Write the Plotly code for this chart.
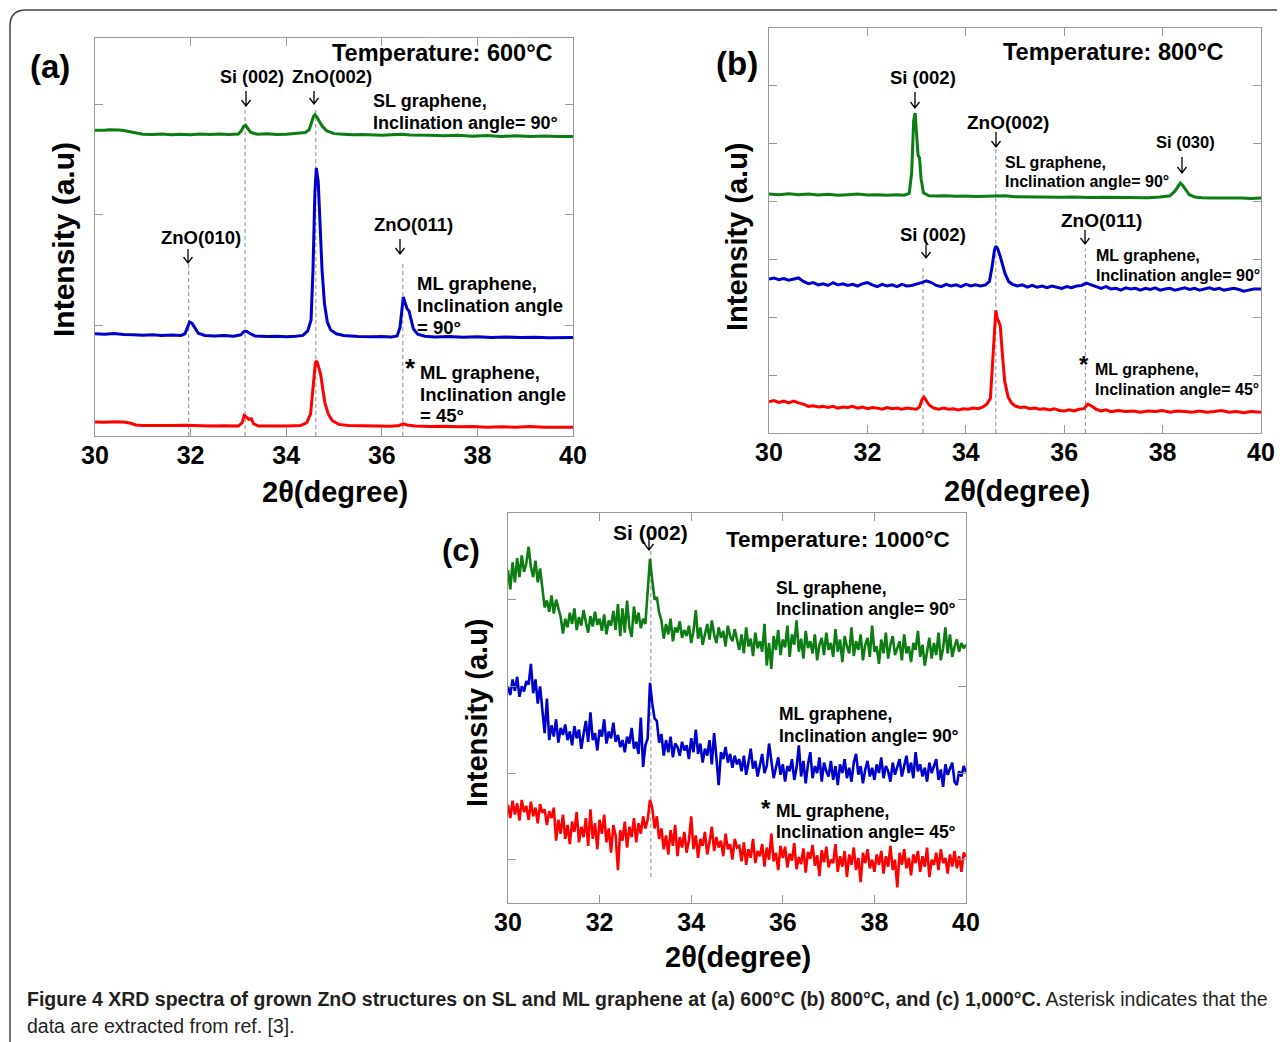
import plotly.graph_objects as go

# The page places the figure 8 px from the top-left corner of the window.
OFF = 8
FW, FH = 1285 - OFF, 1042 - OFF
FONT = "Liberation Sans"

# ---------------- data: panel (a) 600 C ----------------
A_SL = [(30.0,2.765),(30.1,2.763),(30.2,2.766),(30.3,2.77),(30.4,2.772),(30.5,2.768),(30.6,2.764),(30.7,2.755),
        (30.8,2.745),(30.9,2.735),(31.0,2.73),(31.2,2.727),(31.4,2.731),(31.6,2.725),(31.8,2.729),(32.0,2.725),
        (32.2,2.731),(32.4,2.727),(32.6,2.732),(32.8,2.727),(33.0,2.732),(33.06,2.76),(33.11,2.80),(33.15,2.81),
        (33.2,2.78),(33.25,2.75),(33.3,2.74),(33.4,2.73),(33.6,2.735),(33.8,2.728),(34.0,2.73),(34.2,2.735),
        (34.4,2.745),(34.48,2.77),(34.53,2.83),(34.57,2.89),(34.6,2.905),(34.65,2.88),(34.7,2.84),(34.76,2.80),
        (34.85,2.76),(35.0,2.735),(35.2,2.73),(35.4,2.725),(35.6,2.728),(35.8,2.722),(36.0,2.72),(36.2,2.725),
        (36.4,2.73),(36.6,2.722),(36.8,2.718),(37.0,2.72),(37.3,2.715),(37.6,2.72),(37.9,2.712),(38.2,2.718),
        (38.5,2.71),(38.8,2.715),(39.1,2.71),(39.4,2.714),(39.7,2.708),(40.0,2.71)]
A_ML90 = [(30.0,0.925),(30.2,0.92),(30.4,0.928),(30.6,0.918),(30.8,0.915),(31.0,0.912),(31.2,0.916),(31.4,0.91),
          (31.6,0.913),(31.8,0.91),(31.88,0.925),(31.93,0.98),(31.98,1.03),(32.03,1.02),(32.08,0.98),(32.16,0.93),
          (32.3,0.91),(32.5,0.905),(32.7,0.908),(32.9,0.903),(33.05,0.915),(33.12,0.945),(33.18,0.945),(33.25,0.925),
          (33.35,0.905),(33.6,0.9),(33.8,0.903),(34.0,0.898),(34.2,0.902),(34.35,0.91),(34.45,0.95),(34.52,1.05),
          (34.56,1.5),(34.6,2.2),(34.63,2.425),(34.67,2.3),(34.71,1.9),(34.75,1.5),(34.8,1.2),(34.86,1.03),
          (34.93,0.96),(35.05,0.925),(35.2,0.91),(35.5,0.9),(35.8,0.897),(36.0,0.9),(36.2,0.895),(36.32,0.905),
          (36.38,0.98),(36.42,1.15),(36.45,1.258),(36.49,1.2),(36.53,1.15),(36.57,1.13),(36.61,1.06),(36.66,0.97),
          (36.75,0.92),(36.9,0.903),(37.1,0.895),(37.4,0.9),(37.7,0.893),(38.0,0.897),(38.3,0.89),(38.6,0.895),
          (38.9,0.89),(39.2,0.894),(39.5,0.888),(39.8,0.893),(40.0,0.89)]
A_ML45 = [(30.0,0.127),(30.2,0.125),(30.4,0.13),(30.6,0.126),(30.75,0.115),(30.85,0.1),(31.0,0.095),(31.3,0.092),
          (31.6,0.094),(31.9,0.098),(32.1,0.093),(32.4,0.09),(32.7,0.092),(33.0,0.09),(33.08,0.12),(33.12,0.185),
          (33.17,0.17),(33.22,0.15),(33.27,0.155),(33.32,0.11),(33.42,0.09),(33.7,0.088),(34.0,0.09),(34.3,0.095),
          (34.43,0.12),(34.51,0.2),(34.56,0.4),(34.61,0.66),(34.64,0.68),(34.68,0.63),(34.72,0.56),(34.76,0.44),
          (34.81,0.3),(34.88,0.2),(34.96,0.14),(35.1,0.105),(35.3,0.095),(35.6,0.092),(35.9,0.09),(36.2,0.088),
          (36.36,0.095),(36.45,0.11),(36.53,0.1),(36.7,0.09),(37.0,0.085),(37.3,0.088),(37.6,0.083),(37.9,0.085),
          (38.2,0.08),(38.5,0.084),(38.8,0.08),(39.1,0.086),(39.4,0.08),(39.7,0.083),(40.0,0.08)]

# ---------------- data: panel (b) 800 C ----------------
B_SL = [(30.0,4.13),(30.2,4.12),(30.4,4.135),(30.6,4.12),(30.8,4.13),(31.0,4.115),(31.2,4.125),(31.4,4.11),
        (31.6,4.12),(31.8,4.13),(32.0,4.115),(32.2,4.12),(32.4,4.11),(32.6,4.118),(32.75,4.11),(32.85,4.14),
        (32.9,4.5),(32.94,5.4),(32.97,5.53),(33.0,5.1),(33.03,4.8),(33.06,4.75),(33.09,4.4),(33.14,4.15),
        (33.25,4.1),(33.4,4.095),(33.6,4.1),(33.8,4.09),(34.0,4.098),(34.2,4.088),(34.4,4.095),(34.6,4.09),
        (34.8,4.1),(35.0,4.085),(35.3,4.08),(35.6,4.085),(35.9,4.075),(36.2,4.08),(36.5,4.07),(36.8,4.075),
        (37.1,4.068),(37.4,4.072),(37.7,4.065),(37.95,4.08),(38.15,4.1),(38.25,4.18),(38.32,4.28),(38.36,4.32),
        (38.41,4.28),(38.47,4.2),(38.54,4.12),(38.65,4.08),(38.8,4.065),(39.0,4.06),(39.2,4.065),(39.4,4.058),
        (39.6,4.062),(39.8,4.055),(40.0,4.06)]
B_ML90 = [(30.0,2.66),(30.1,2.68),(30.2,2.65),(30.3,2.67),(30.4,2.64),(30.5,2.66),(30.6,2.68),(30.7,2.62),
          (30.8,2.58),(30.9,2.6),(31.0,2.56),(31.1,2.58),(31.2,2.55),(31.3,2.6),(31.4,2.56),(31.5,2.58),
          (31.6,2.55),(31.7,2.57),(31.8,2.54),(31.9,2.58),(32.0,2.6),(32.1,2.56),(32.2,2.53),(32.3,2.57),
          (32.4,2.54),(32.5,2.56),(32.6,2.53),(32.7,2.57),(32.8,2.54),(32.9,2.55),(33.0,2.57),(33.1,2.6),
          (33.2,2.63),(33.3,2.6),(33.4,2.55),(33.5,2.53),(33.6,2.57),(33.7,2.54),(33.8,2.56),(33.9,2.53),
          (34.0,2.57),(34.1,2.54),(34.2,2.56),(34.3,2.54),(34.4,2.56),(34.48,2.62),(34.53,2.85),(34.58,3.15),
          (34.61,3.23),(34.65,3.18),(34.7,3.05),(34.75,2.9),(34.8,2.75),(34.87,2.62),(34.95,2.57),(35.05,2.54),
          (35.15,2.56),(35.25,2.52),(35.35,2.55),(35.45,2.52),(35.55,2.54),(35.65,2.51),(35.75,2.54),(35.85,2.52),
          (35.95,2.5),(36.05,2.53),(36.15,2.51),(36.25,2.54),(36.35,2.55),(36.45,2.59),(36.55,2.56),(36.65,2.52),
          (36.75,2.5),(36.85,2.53),(36.95,2.49),(37.05,2.5),(37.15,2.47),(37.25,2.51),(37.35,2.49),(37.45,2.5),
          (37.55,2.47),(37.65,2.5),(37.75,2.48),(37.85,2.51),(37.95,2.47),(38.05,2.49),(38.15,2.5),(38.25,2.47),
          (38.35,2.49),(38.45,2.51),(38.55,2.48),(38.65,2.5),(38.75,2.47),(38.85,2.49),(38.95,2.51),(39.05,2.48),
          (39.15,2.5),(39.25,2.47),(39.35,2.49),(39.45,2.5),(39.55,2.48),(39.65,2.45),(39.75,2.47),(39.85,2.49),
          (40.0,2.49)]
B_ML45 = [(30.0,0.54),(30.1,0.56),(30.2,0.53),(30.3,0.55),(30.4,0.52),(30.5,0.55),(30.6,0.52),(30.7,0.5),
          (30.8,0.46),(30.9,0.47),(31.0,0.45),(31.1,0.46),(31.2,0.44),(31.3,0.46),(31.4,0.43),(31.5,0.45),
          (31.6,0.44),(31.7,0.46),(31.8,0.43),(31.9,0.45),(32.0,0.42),(32.1,0.44),(32.2,0.43),(32.3,0.41),
          (32.4,0.44),(32.5,0.42),(32.6,0.43),(32.7,0.41),(32.8,0.43),(32.9,0.42),(33.0,0.41),(33.06,0.45),
          (33.11,0.58),(33.15,0.62),(33.2,0.56),(33.26,0.48),(33.35,0.43),(33.45,0.41),(33.55,0.43),(33.65,0.41),
          (33.75,0.42),(33.85,0.4),(33.95,0.42),(34.05,0.41),(34.15,0.43),(34.25,0.42),(34.35,0.45),(34.43,0.5),
          (34.5,0.6),(34.55,1.3),(34.59,2.0),(34.61,2.12),(34.64,1.98),(34.67,1.9),(34.7,1.86),(34.74,1.4),
          (34.79,0.9),(34.86,0.62),(34.93,0.52),(35.0,0.47),(35.1,0.44),(35.2,0.45),(35.3,0.42),(35.4,0.43),
          (35.5,0.41),(35.6,0.42),(35.7,0.4),(35.8,0.42),(35.9,0.39),(36.0,0.38),(36.1,0.4),(36.2,0.38),
          (36.3,0.41),(36.4,0.42),(36.48,0.5),(36.55,0.47),(36.65,0.41),(36.75,0.38),(36.85,0.4),(36.95,0.37),
          (37.1,0.39),(37.25,0.37),(37.4,0.38),(37.55,0.36),(37.7,0.38),(37.85,0.37),(38.0,0.39),(38.15,0.36),
          (38.3,0.38),(38.45,0.37),(38.6,0.36),(38.75,0.38),(38.9,0.36),(39.05,0.37),(39.2,0.39),(39.35,0.36),
          (39.5,0.37),(39.65,0.35),(39.8,0.37),(40.0,0.36)]

# ---------------- data: panel (c) 1000 C, sampled every 0.05 deg from 30 to 40 ----------------
C_SL = [3.84,3.62,3.93,3.70,3.98,3.76,4.01,3.82,3.92,4.11,3.88,3.76,3.95,3.70,3.86,3.63,
        3.41,3.49,3.36,3.55,3.34,3.50,3.40,3.30,3.11,
        3.28,3.18,3.35,3.22,3.40,3.15,3.30,3.20,3.38,3.24,3.12,3.31,3.19,3.36,3.21,3.28,3.14,3.33,3.10,3.26,
        3.20,3.37,3.15,3.45,3.08,3.40,3.12,3.49,3.18,3.07,3.42,3.22,3.35,3.17,3.28,3.22,
        3.55,3.97,3.72,3.50,3.53,3.35,3.26,
        3.05,3.22,3.10,3.28,3.02,3.18,3.12,3.25,3.06,3.15,3.08,3.20,3.00,3.14,3.38,3.05,3.18,2.98,3.12,3.22,
        3.04,3.26,3.10,3.00,3.18,3.06,3.14,2.96,3.20,3.08,3.02,3.16,3.04,
        2.92,3.10,2.88,3.18,2.96,3.05,2.85,3.12,2.94,3.02,2.90,3.22,2.74,3.00,2.70,3.08,2.92,3.15,2.86,3.04,
        2.95,3.20,2.84,3.10,2.98,3.26,2.90,3.05,2.82,3.14,2.94,3.02,2.88,3.10,2.80,2.98,3.06,2.86,3.12,2.92,
        3.00,2.84,3.16,2.90,3.04,2.78,3.08,2.96,2.88,3.18,2.85,3.02,2.92,3.10,2.80,2.98,3.06,2.84,3.20,2.90,
        2.96,2.76,3.04,2.88,3.12,2.82,2.98,3.08,2.86,2.94,3.02,2.80,3.10,2.88,2.96,2.78,3.00,2.92,3.14,2.84,
        2.98,2.74,2.90,3.06,2.82,3.00,2.86,3.12,2.80,2.94,3.18,2.88,3.10,2.84,2.96,3.04,2.90,3.00,2.94,2.98]
C_ML90 = [2.49,2.40,2.58,2.45,2.61,2.38,2.50,2.44,2.56,2.52,2.76,2.42,2.58,2.30,2.50,2.23,
          1.96,2.36,1.88,2.05,1.92,2.12,1.85,2.02,1.94,
          2.06,1.88,1.98,1.82,2.04,1.90,2.00,1.78,1.95,2.10,1.86,2.20,1.88,1.96,1.76,2.00,1.92,2.12,1.84,1.98,
          1.90,2.08,1.86,1.94,1.80,1.88,1.74,1.92,1.84,2.02,1.78,1.86,1.72,2.14,1.57,1.82,
          1.90,2.54,2.30,2.13,2.10,1.85,1.95,
          1.70,1.88,1.74,1.92,1.68,1.84,1.80,1.70,1.86,1.76,1.82,1.66,1.90,1.74,2.00,1.72,1.84,1.62,1.78,1.70,
          1.88,1.60,1.96,1.68,1.36,1.74,1.66,1.80,1.62,1.72,1.56,1.70,1.60,
          1.66,1.52,1.70,1.48,1.62,1.78,1.55,1.64,1.46,1.60,1.72,1.50,1.58,1.84,1.62,1.44,1.56,1.68,1.48,1.60,
          1.40,1.58,1.52,1.66,1.42,1.56,1.82,1.46,1.64,1.38,1.60,1.74,1.44,1.58,1.50,1.68,1.40,1.62,1.52,1.46,
          1.64,1.42,1.58,1.36,1.60,1.50,1.66,1.44,1.56,1.40,1.62,1.72,1.48,1.58,1.38,1.54,1.64,1.46,1.56,1.42,
          1.60,1.50,1.68,1.44,1.58,1.52,1.40,1.62,1.48,1.56,1.66,1.46,1.58,1.70,1.50,1.62,1.44,1.74,1.52,1.60,
          1.46,1.56,1.40,1.62,1.50,1.58,1.66,1.42,1.54,1.34,1.60,1.48,1.56,1.62,1.40,1.36,1.52,1.46,1.58,1.51]
C_ML45 = [1.13,0.98,1.18,1.02,1.15,0.95,1.19,1.05,1.12,0.96,1.17,1.00,1.10,0.92,1.14,1.04,1.08,0.90,1.06,0.98,1.10,
          0.72,0.96,0.80,1.02,0.74,0.90,0.68,0.94,0.82,1.05,0.70,0.88,0.76,0.98,0.66,1.08,0.74,0.92,0.62,0.96,
          0.80,1.02,0.70,0.86,0.58,0.90,0.78,0.38,0.84,0.72,0.94,0.64,0.88,0.76,0.98,0.70,0.92,0.80,1.00,0.86,
          0.96,1.19,1.10,0.86,1.00,0.74,
          0.86,0.62,0.78,0.56,0.84,0.66,0.90,0.54,0.76,0.64,0.82,0.58,0.72,1.00,0.62,0.78,0.52,0.74,0.66,0.82,
          0.56,0.70,0.88,0.60,0.76,0.64,0.72,0.54,0.80,0.62,0.68,0.50,0.74,0.64,
          0.66,0.48,0.70,0.44,0.62,0.52,0.74,0.46,0.60,0.54,0.68,0.42,0.64,0.50,0.80,0.48,0.58,0.38,0.66,0.52,
          0.65,0.41,0.57,0.49,0.69,0.39,0.53,0.45,0.63,0.35,0.59,0.51,0.67,0.43,0.55,0.31,0.61,0.47,0.65,0.41,
          0.50,0.46,0.68,0.36,0.54,0.42,0.60,0.30,0.56,0.44,0.64,0.38,0.52,0.24,0.58,0.46,0.62,0.40,0.50,0.36,
          0.56,0.44,0.60,0.34,0.54,0.42,0.66,0.38,0.50,0.18,0.58,0.44,0.62,0.40,0.52,0.32,0.56,0.46,0.60,0.36,
          0.54,0.42,0.64,0.30,0.50,0.44,0.58,0.38,0.62,0.46,0.52,0.34,0.56,0.42,0.60,0.40,0.54,0.36,0.58,0.53]

# peak-marker dashed lines: (x, y_top, y_bottom)
A_DASH = [(31.96, 1.57, 0.0), (33.14, 2.98, 0.0), (34.62, 2.96, 0.0), (36.44, 1.57, 0.0)]
B_DASH = [(33.13, 2.87, 0.0), (34.61, 4.94, 0.0), (36.43, 3.19, 0.0)]
C_DASH = [(33.12, 4.09, 0.3)]

X_TICKS = [30, 32, 34, 36, 38, 40]

GREEN, BLUE, RED = "#0b7d12", "#0000cc", "#ff0000"
AXC = "#9a9a9a"

fig = go.Figure()


def unzip(pairs):
    return [p[0] for p in pairs], [p[1] for p in pairs]


def grid(vals):
    n = len(vals)
    return [30 + 10 * i / (n - 1) for i in range(n)]


def add_line(x, y, color, xa, ya, width):
    fig.add_trace(go.Scatter(x=x, y=y, mode="lines", line=dict(color=color, width=width),
                             xaxis=xa, yaxis=ya, showlegend=False, hoverinfo="skip"))


for xa, ya, dashes in (("x", "y", A_DASH), ("x2", "y2", B_DASH), ("x3", "y3", C_DASH)):
    for (xv, yt, yb) in dashes:
        fig.add_trace(go.Scatter(x=[xv, xv], y=[yb, yt], mode="lines",
                                 line=dict(color="#8c8c8c", width=1, dash="4px,3px"),
                                 xaxis=xa, yaxis=ya, showlegend=False, hoverinfo="skip"))

for pairs, col in ((A_SL, GREEN), (A_ML90, BLUE), (A_ML45, RED)):
    x, y = unzip(pairs)
    add_line(x, y, col, "x", "y", 3)
for pairs, col in ((B_SL, GREEN), (B_ML90, BLUE), (B_ML45, RED)):
    x, y = unzip(pairs)
    add_line(x, y, col, "x2", "y2", 3)
for vals, col in ((C_SL, GREEN), (C_ML90, BLUE), (C_ML45, RED)):
    add_line(grid(vals), vals, col, "x3", "y3", 2.6)


# window pixel -> paper coordinate
def px(x):
    return (x - OFF) / FW


def py(y):
    return 1 - (y - OFF) / FH


def xaxis(l, r, anchor):
    return dict(domain=[px(l), px(r)], range=[30, 40], tickvals=X_TICKS, ticks="inside", ticklen=8,
                tickcolor=AXC, showline=True, linecolor=AXC, linewidth=1, mirror="ticks",
                showgrid=False, zeroline=False, anchor=anchor, ticklabelstandoff=-3,
                tickfont=dict(family=FONT, size=25, color="black", weight="bold"))


def yaxis(b, t, rng, tv, anchor):
    return dict(domain=[py(b), py(t)], range=rng, tickvals=tv, ticks="inside", ticklen=8,
                tickcolor=AXC, showline=True, linecolor=AXC, linewidth=1, mirror="ticks",
                showgrid=False, zeroline=False, showticklabels=False, anchor=anchor)


fig.update_layout(
    width=FW, height=FH, margin=dict(l=0, r=0, t=0, b=0, autoexpand=False),
    paper_bgcolor="white", plot_bgcolor="white",
    xaxis=xaxis(95, 573, "y"),
    yaxis=yaxis(436, 38, [0, 3.6], [1, 2, 3], "x"),
    xaxis2=xaxis(769, 1261, "y2"),
    yaxis2=yaxis(433, 28, [0, 7], [1, 2, 3, 4, 5, 6], "x2"),
    xaxis3=xaxis(508, 966, "y3"),
    yaxis3=yaxis(903, 513, [0, 4.5], [0.5, 1.5, 2.5, 3.5], "x3"),
)

ann = []
shapes = []


def txt(s, x, y, size, anchor="center", bold=True, angle=0, color="black", family=FONT):
    ann.append(dict(text=s, x=px(x), y=py(y), xref="paper", yref="paper",
                    xanchor=anchor, yanchor="middle", showarrow=False, textangle=angle,
                    font=dict(family=family, size=size, color=color,
                              weight="bold" if bold else "normal")))


def arrow(x, y0, y1):
    hw, hh = 4.5, 6
    path = (f"M {px(x)},{py(y0)} L {px(x)},{py(y1)} "
            f"M {px(x - hw)},{py(y1 - hh)} L {px(x)},{py(y1)} L {px(x + hw)},{py(y1 - hh)}")
    shapes.append(dict(type="path", path=path, xref="paper", yref="paper",
                       line=dict(color="black", width=1.3)))


# panel (a)
txt("(a)", 28, 66, 33, "left")
txt("Temperature: 600°C", 442, 53, 23.5)
txt("Si (002)", 252, 77, 18); arrow(246, 91, 106)
txt("ZnO(002)", 332, 77, 18.5); arrow(314, 91, 104)
txt("SL graphene,", 371, 101, 18, "left")
txt("Inclination angle= 90°", 371, 123, 18, "left")
txt("ZnO(010)", 201, 238, 18.5); arrow(188, 249, 263)
txt("ZnO(011)", 413, 224, 18.5); arrow(400, 239, 254)
txt("ML graphene,", 415, 283, 18.5, "left")
txt("Inclination angle", 415, 305, 18.5, "left")
txt("= 90°", 415, 327, 18.5, "left")
txt("*", 410, 368, 26)
txt("ML graphene,", 418, 372, 18.5, "left")
txt("Inclination angle", 418, 394, 18.5, "left")
txt("= 45°", 418, 416, 18.5, "left")
txt("Intensity (a.u)", 63, 240, 30, angle=-90)
txt("2θ(degree)", 335, 492, 29)

# panel (b)
txt("(b)", 714, 64, 33, "left")
txt("Temperature: 800°C", 1113, 52, 23.5)
txt("Si (002)", 923, 78, 18.5); arrow(915, 92, 108)
txt("ZnO(002)", 1008, 122, 19); arrow(996, 132, 147)
txt("SL graphene,", 1003, 163, 16, "left")
txt("Inclination angle= 90°", 1003, 182, 16, "left")
txt("Si (030)", 1185, 142, 16.5); arrow(1182, 157, 173)
txt("Si (002)", 933, 235, 18.5); arrow(926, 245, 258)
txt("ZnO(011)", 1101, 220, 19); arrow(1085, 230, 244)
txt("ML graphene,", 1094, 255, 16, "left")
txt("Inclination angle= 90°", 1094, 275, 16, "left")
txt("*", 1084, 364, 24)
txt("ML graphene,", 1093, 370, 16, "left")
txt("Inclination angle= 45°", 1093, 390, 16, "left")
txt("Intensity (a.u)", 737, 237, 29, angle=-90)
txt("2θ(degree)", 1017, 491, 29)

# panel (c)
txt("(c)", 440, 550, 31, "left")
txt("Si (002)", 650, 532, 21); arrow(649, 534, 550)
txt("Temperature: 1000°C", 838, 539, 22.5)
txt("SL graphene,", 774, 588, 17.5, "left")
txt("Inclination angle= 90°", 774, 609, 17.5, "left")
txt("ML graphene,", 777, 714, 17.5, "left")
txt("Inclination angle= 90°", 777, 736, 17.5, "left")
txt("*", 766, 808, 24)
txt("ML graphene,", 774, 811, 17.5, "left")
txt("Inclination angle= 45°", 774, 832, 17.5, "left")
txt("Intensity (a.u)", 477, 713, 29, angle=-90)
txt("2θ(degree)", 738, 957, 29)

# caption
txt("<b>Figure 4 XRD spectra of grown ZnO structures on SL and ML graphene at (a) 600°C (b) 800°C, and (c) 1,000°C.</b>"
    " Asterisk indicates that the", 25, 999, 19.5, "left", bold=False, color="#231f20")
txt("data are extracted from ref. [3].", 25, 1026, 19.5, "left", bold=False, color="#231f20")

# rounded frame running off the right and bottom edges
frame = (f"M {px(10)},{py(1100)} L {px(10)},{py(26)} Q {px(10)},{py(10)} {px(26)},{py(10)} "
         f"L {px(1320)},{py(10)}")
shapes.append(dict(type="path", path=frame, xref="paper", yref="paper",
                   line=dict(color="#444444", width=1.5)))

fig.update_layout(annotations=ann, shapes=shapes)

fig.write_html("out.html")
